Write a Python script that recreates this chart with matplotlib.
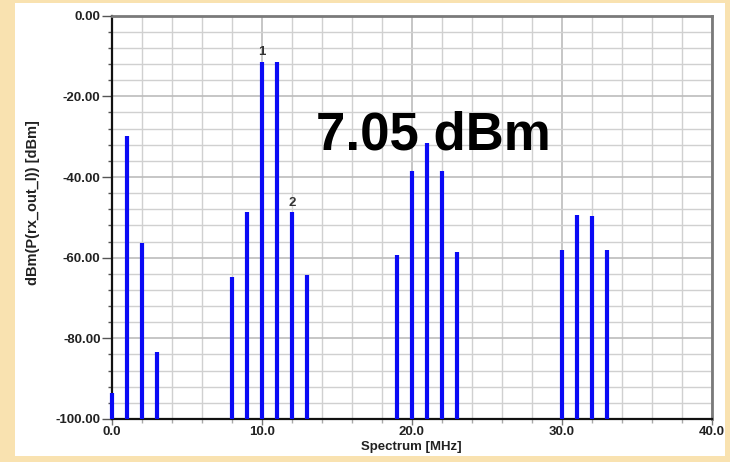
import numpy as np
import matplotlib
matplotlib.use("Agg")
import matplotlib.pyplot as plt
from matplotlib.ticker import MultipleLocator, FormatStrFormatter
from matplotlib.patches import Rectangle

# spectrum lines
freq_mhz = [0, 1, 2, 3,
            8, 9, 10, 11, 12, 13,
            19, 20, 21, 22, 23,
            30, 31, 32, 33]
power_dbm = [-93.5, -29.8, -56.4, -83.4,
             -64.9, -48.7, -11.4, -11.6, -48.7, -64.3,
             -59.3, -38.4, -31.5, -38.4, -58.7,
             -58.1, -49.4, -49.6, -58.1]
marker_names = ["1", "2"]
marker_freq = [10, 12]
marker_power = [-11.4, -48.7]
total_power = "7.05 dBm"

plt.rcParams['font.family'] = ['Liberation Sans', 'DejaVu Sans']

W, H = 730, 462
fig = plt.figure(figsize=(W / 100, H / 100), dpi=100)
fig.patch.set_facecolor('#f9e2b0')
# white panel behind the plot
fig.patches.append(Rectangle((15 / W, 1 - 456 / H), 710 / W, 453 / H,
                             transform=fig.transFigure, facecolor='white',
                             edgecolor='none', zorder=-10))

x0, x1, y0, y1 = 111.7, 711.7, 15.7, 419
ax = fig.add_axes([x0 / W, 1 - y1 / H, (x1 - x0) / W, (y1 - y0) / H])
ax.set_facecolor('white')

ax.vlines(freq_mhz, -100, power_dbm, colors='#0a0af5', linewidth=3.0,
          zorder=3, clip_on=False)

ax.set_xlim(0, 40)
ax.set_ylim(-100, 0)

ax.xaxis.set_major_locator(MultipleLocator(10))
ax.xaxis.set_minor_locator(MultipleLocator(2))
ax.yaxis.set_major_locator(MultipleLocator(20))
ax.yaxis.set_minor_locator(MultipleLocator(4))
ax.xaxis.set_major_formatter(FormatStrFormatter('%.1f'))
ax.yaxis.set_major_formatter(FormatStrFormatter('%.2f'))

ax.grid(which='minor', color='#d0d0d0', linewidth=1.0)
ax.grid(which='major', color='#bcbcbc', linewidth=1.2)
ax.set_axisbelow(True)

ax.tick_params(axis='y', which='major', length=7, width=1, color='#555555',
               labelsize=9.5, pad=1, labelcolor='#222222')
ax.tick_params(axis='y', which='minor', length=3, width=1, color='#555555')
ax.tick_params(axis='x', which='major', length=4, width=1, color='#777777',
               labelsize=9.5, pad=1, labelcolor='#222222')
ax.tick_params(axis='x', which='minor', length=3, width=1, color='#aaaaaa')
for lab in ax.get_xticklabels() + ax.get_yticklabels():
    lab.set_fontweight('bold')

for side in ['left', 'bottom']:
    ax.spines[side].set_color('#111111')
    ax.spines[side].set_linewidth(1.6)
for side in ['top', 'right']:
    ax.spines[side].set_color('#7a7a7a')
    ax.spines[side].set_linewidth(2.0)

ax.set_xlabel('Spectrum [MHz]', fontsize=9.5, fontweight='bold', labelpad=2,
              color='#222222')
fig.text(33 / W, 1 - 203 / H, 'dBm(P(rx_out_l)) [dBm]', rotation=90,
         fontsize=10.5, fontweight='bold', ha='center', va='center',
         color='#222222')

for name, f, p in zip(marker_names, marker_freq, marker_power):
    ax.text(f, p + 0.8, name, ha='center', va='bottom', fontsize=9.5,
            fontweight='bold', color='#333333', zorder=4)

fig.text(316 / W, 1 - 150 / H, total_power, ha='left', va='baseline',
         fontsize=38, fontweight='bold', color='black')

fig.savefig('out.png', dpi=100, facecolor=fig.get_facecolor())
